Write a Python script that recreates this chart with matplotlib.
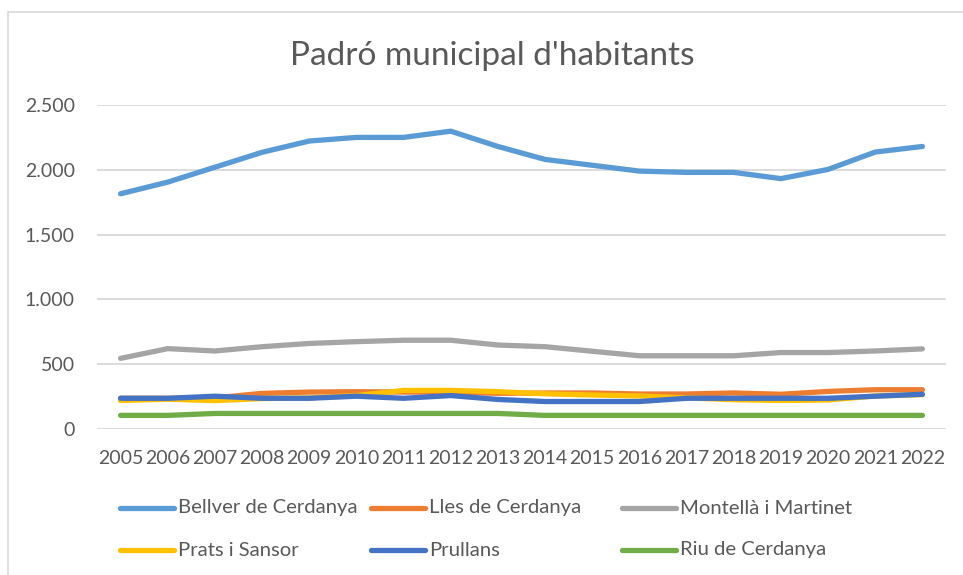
import matplotlib
matplotlib.use("Agg")
import matplotlib.pyplot as plt
from matplotlib.lines import Line2D
from matplotlib.patches import Rectangle
from matplotlib.ticker import FuncFormatter

plt.rcParams['font.family'] = ['Lato', 'DejaVu Sans']

years = list(range(2005, 2023))
bellver = [1815, 1905, 2020, 2135, 2222, 2250, 2250, 2298, 2180, 2080, 2035, 1990, 1980, 1980, 1932, 2003, 2137, 2180]
lles = [237, 237, 240, 275, 285, 288, 285, 285, 275, 278, 278, 270, 270, 278, 268, 290, 303, 303]
montella = [545, 620, 602, 635, 660, 674, 685, 685, 648, 635, 600, 565, 565, 565, 590, 590, 602, 618]
prats = [220, 230, 219, 235, 240, 258, 298, 298, 288, 272, 262, 255, 240, 226, 220, 224, 255, 265]
prullans = [237, 237, 253, 237, 237, 253, 237, 258, 228, 212, 212, 212, 237, 237, 237, 237, 253, 268]
riu = [105, 105, 120, 120, 120, 120, 120, 120, 120, 105, 105, 105, 105, 105, 105, 105, 105, 105]

names = ["Bellver de Cerdanya", "Lles de Cerdanya", "Montellà i Martinet",
         "Prats i Sansor", "Prullans", "Riu de Cerdanya"]
series = [bellver, lles, montella, prats, prullans, riu]
colors = ["#5B9BD5", "#ED7D31", "#A5A5A5", "#FFC000", "#4472C4", "#70AD47"]
yticks = [0, 500, 1000, 1500, 2000, 2500]

W, H = 963, 575
fig = plt.figure(figsize=(W / 100, H / 100), dpi=100)
fig.patch.set_facecolor("white")

# chart frame
fig.add_artist(Rectangle((8 / W, -0.1), 1.2, 1 - 12 / H + 0.1, transform=fig.transFigure,
                         fill=False, edgecolor="#D9D9D9", linewidth=1.2))

ax = fig.add_axes([97 / W, 1 - 429 / H, (946 - 97) / W, (429 - 105) / H])
for vals, c, n in zip(series, colors, names):
    ax.plot(years, vals, color=c, linewidth=3.8, solid_capstyle="round",
            solid_joinstyle="round", label=n, zorder=3)

ax.set_xlim(2004.5, 2022.5)
ax.set_ylim(0, 2500)
ax.set_yticks(yticks)
ax.yaxis.set_major_formatter(FuncFormatter(lambda v, p: f"{int(v):,}".replace(",", ".")))
ax.set_xticks(years)
ax.set_xticklabels([str(y) for y in years])
ax.grid(axis="y", color="#D9D9D9", linewidth=1.3, zorder=0)
for s in ax.spines.values():
    s.set_visible(False)
ax.tick_params(axis="both", length=0, labelsize=14, colors="#595959")
ax.tick_params(axis="y", pad=16)
ax.tick_params(axis="x", pad=15)

fig.text(492 / W, 1 - 56 / H, "Padró municipal d'habitants", ha="center", va="center",
         fontsize=24, color="#595959")

# legend
col_x = [120, 371, 622]
row_y = [508, 550]
for i, (n, c) in enumerate(zip(names, colors)):
    x0 = col_x[i % 3]
    y0 = row_y[i // 3]
    fig.add_artist(Line2D([x0 / W, (x0 + 54) / W], [1 - y0 / H, 1 - y0 / H],
                          transform=fig.transFigure, color=c, linewidth=3.8,
                          solid_capstyle="round"))
    fig.text((x0 + 58) / W, 1 - y0 / H, n, ha="left", va="center", fontsize=14.6,
             color="#595959")

fig.savefig("out.png", dpi=100)
